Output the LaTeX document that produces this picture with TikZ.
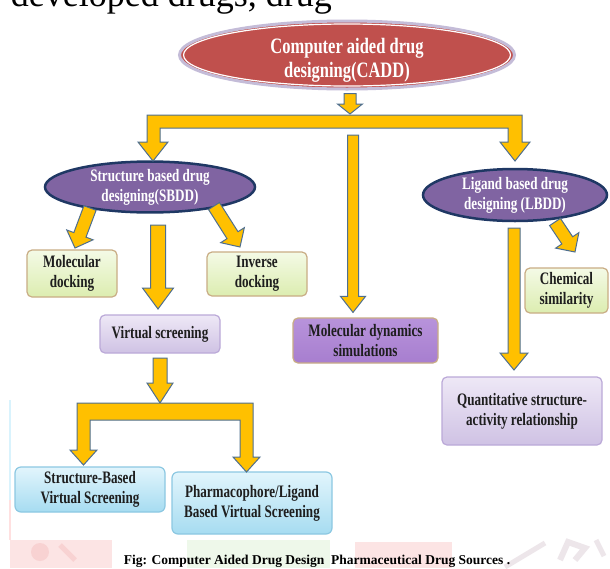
\documentclass[tikz,border=0pt]{standalone}
\usepackage{fontspec}
\setmainfont{Liberation Serif}
\newfontfamily\condfont[FakeStretch=0.75]{Liberation Serif}
\usetikzlibrary{shapes.geometric,calc}
\definecolor{arrfill}{HTML}{FFC000}
\definecolor{arrline}{HTML}{4F6F8F}
\definecolor{caddred}{HTML}{C0504D}
\definecolor{caddring}{HTML}{C4BCD8}
\definecolor{purpfill}{HTML}{8064A2}
\definecolor{navy}{HTML}{1F3864}
\definecolor{greentop}{HTML}{F4FAE6}
\definecolor{greenbot}{HTML}{DCEDB0}
\definecolor{tanline}{HTML}{C9AD85}
\definecolor{lavtop}{HTML}{EEE8F6}
\definecolor{lavbot}{HTML}{CFC2E4}
\definecolor{lavline}{HTML}{BBA9D8}
\definecolor{mdtop}{HTML}{B893DB}
\definecolor{mdbot}{HTML}{A77ECF}
\definecolor{bluetop}{HTML}{E2F5FC}
\definecolor{bluebot}{HTML}{A6DCF1}
\definecolor{blueline}{HTML}{8CC8E2}
\definecolor{txtdark}{HTML}{1E1E1E}
\definecolor{wmpink}{HTML}{FCE4E4}
\definecolor{wmpink2}{HTML}{F8D2D2}
\definecolor{wmgreen}{HTML}{EEF8EA}
\definecolor{wmgrey}{HTML}{EDE6EA}
\tikzset{
  arrowstyle/.style={fill=arrfill, draw=arrline, line width=1pt, line join=miter},
  boxtext/.style={font=\condfont\bfseries\fontsize{17.5}{20}\selectfont, text=txtdark, align=center},
  greenbox/.style={boxtext, rectangle, rounded corners=5pt, draw=tanline, line width=1.2pt, top color=greentop, bottom color=greenbot},
  lavbox/.style={boxtext, rectangle, rounded corners=5pt, draw=lavline, line width=1.2pt, top color=lavtop, bottom color=lavbot},
  mdbox/.style={boxtext, rectangle, rounded corners=5pt, draw=tanline, line width=1.2pt, top color=mdtop, bottom color=mdbot},
  bluebox/.style={boxtext, rectangle, rounded corners=6pt, draw=blueline, line width=1.2pt, top color=bluetop, bottom color=bluebot},
  purpell/.style={ellipse, inner sep=0pt, fill=purpfill, draw=navy, line width=2.5pt, text=white, align=center,
     font=\condfont\bfseries\fontsize{17.5}{20}\selectfont},
}
\newcommand{\barrow}[5]{%
  \coordinate (bH) at ($(#2)!#5!(#1)$);
  \filldraw[arrowstyle] ($(#1)!#3!90:(#2)$) -- ($(bH)!#3!90:(#2)$) -- ($(bH)!#4!90:(#2)$) -- (#2)
     -- ($(bH)!#4!-90:(#2)$) -- ($(bH)!#3!-90:(#2)$) -- ($(#1)!#3!-90:(#2)$) -- cycle;
}
\begin{document}
\begin{tikzpicture}[x=1pt,y=-1pt]
\useasboundingbox (0,0) rectangle (610,568);
\fill[white] (0,0) rectangle (610,568);
% faint watermark
\fill[wmpink] (10,540) rectangle (112,568);
\fill[wmpink2] (40,552) circle (9pt);
\draw[wmpink2, line width=5pt] (60,545) -- (75,560);
\fill[wmgreen] (187,540) rectangle (330,568);
\fill[wmpink] (355,542) rectangle (452,568);
\draw[wmgrey, line width=5pt] (505,567) -- (545,543);
\draw[wmgrey, line width=6pt] (560,560) -- (568,542) -- (585,548) -- (575,560);
\draw[wmgrey, line width=5pt] (596,540) -- (604,556);
\draw[cyan!15, line width=1.5pt] (10,400) -- (10,500);
\draw[red!12, line width=1.5pt] (10,500) -- (10,540);
% cut-off text at the top
\begin{scope}
\clip (0,0) rectangle (610,568);
\node[anchor=base east, inner sep=0pt, font=\fontsize{36}{36}\selectfont] (toptext) at (332,6) {developed drugs, drug};
\end{scope}
% top ellipse
\node[ellipse, inner sep=0pt, minimum width=335pt, minimum height=68pt, fill=caddred, draw=caddring, line width=3pt] (cadd) at (347,55) {};
\draw[white, line width=1.2pt] (cadd.center) ellipse (163.5pt and 31pt);
\node[text=white, align=center, font=\condfont\bfseries\fontsize{22}{24}\selectfont] (caddtxt) at (347,60) {Computer aided drug\\designing(CADD)};
% second-level ellipses
\node[purpell, minimum width=210pt, minimum height=50pt] (sbdd) at (150,187) {Structure based drug\\designing(SBDD)};
\node[purpell, minimum width=184pt, minimum height=52pt] (lbdd) at (515,195) {Ligand based drug\\designing (LBDD)};
% boxes
\node[greenbox, minimum width=90pt, minimum height=47pt, inner sep=0pt] (moldock) at (72,273.5) {Molecular\\docking};
\node[greenbox, minimum width=100pt, minimum height=44pt, inner sep=0pt] (invdock) at (257,274) {Inverse\\docking};
\node[greenbox, minimum width=83pt, minimum height=45pt, inner sep=0pt] (chemsim) at (566.5,290.5) {Chemical\\similarity};
\node[lavbox, minimum width=120pt, minimum height=38pt, inner sep=0pt] (vs) at (160,334) {Virtual screening};
\node[mdbox, minimum width=145pt, minimum height=45pt, inner sep=0pt] (md) at (365.5,340.5) {Molecular dynamics\\simulations};
\node[lavbox, minimum width=160pt, minimum height=68pt, inner sep=0pt] (qsar) at (522,411) {Quantitative structure-\\activity relationship};
\node[bluebox, minimum width=150pt, minimum height=45pt, inner sep=0pt] (sbvs) at (90,489.5) {Structure-Based\\Virtual Screening};
\node[bluebox, minimum width=160pt, minimum height=62pt, inner sep=0pt] (pharm) at (252,503) {Pharmacophore/Ligand\\Based Virtual Screening};
% caption
\node[font=\bfseries\fontsize{13.5}{15}\selectfont, inner sep=0pt] (caption) at (317,561) {Fig: Computer Aided Drug Design\ \ Pharmaceutical Drug Sources .};
% connectors
\coordinate (c1s) at ($(cadd.south)+(3,3)$);
\coordinate (c1e) at (350,114);
\barrow{c1s}{c1e}{6pt}{12.5pt}{10pt}
% top T-bar with two arrows
\filldraw[arrowstyle] (147,115) -- (522,115) -- (522,142) -- (530,142) -- (515,161) -- (500,142) -- (508,142)
  -- (508,128) -- (160,128) -- (160,142) -- (168,142) -- (153,161) -- (138,142) -- (147,142) -- cycle;
% molecular dynamics arrow
\coordinate (mds) at (353,135);
\coordinate (mde) at ($(md.north)+(-12.5,-5)$);
\barrow{mds}{mde}{5.5pt}{12.5pt}{16pt}
% SBDD children
\coordinate (s1s) at (90,208);
\coordinate (s1e) at (75,248);
\barrow{s1s}{s1e}{6.5pt}{14pt}{14pt}
\coordinate (s2s) at (214,206);
\coordinate (s2e) at (240,247);
\barrow{s2s}{s2e}{6.5pt}{14pt}{14pt}
\coordinate (s3s) at (158,225);
\coordinate (s3e) at (158,309);
\barrow{s3s}{s3e}{7.5pt}{15.5pt}{21pt}
% virtual screening to second T-bar
\coordinate (v1s) at (160,358);
\coordinate (v1e) at (160,403);
\barrow{v1s}{v1e}{7pt}{13pt}{20pt}
\filldraw[arrowstyle] (77,403) -- (253,403) -- (253,457) -- (260,457) -- (246.5,472) -- (233,457) -- (240,457)
  -- (240,420) -- (90,420) -- (90,450) -- (97,450) -- (83.5,465) -- (70,450) -- (77,450) -- cycle;
% LBDD children
\coordinate (l1s) at (555,222);
\coordinate (l1e) at (575,252);
\barrow{l1s}{l1e}{6.5pt}{14pt}{14pt}
\coordinate (l2s) at (514,228);
\coordinate (l2e) at (514,370);
\barrow{l2s}{l2e}{6pt}{14pt}{17pt}
\end{tikzpicture}
\end{document}
